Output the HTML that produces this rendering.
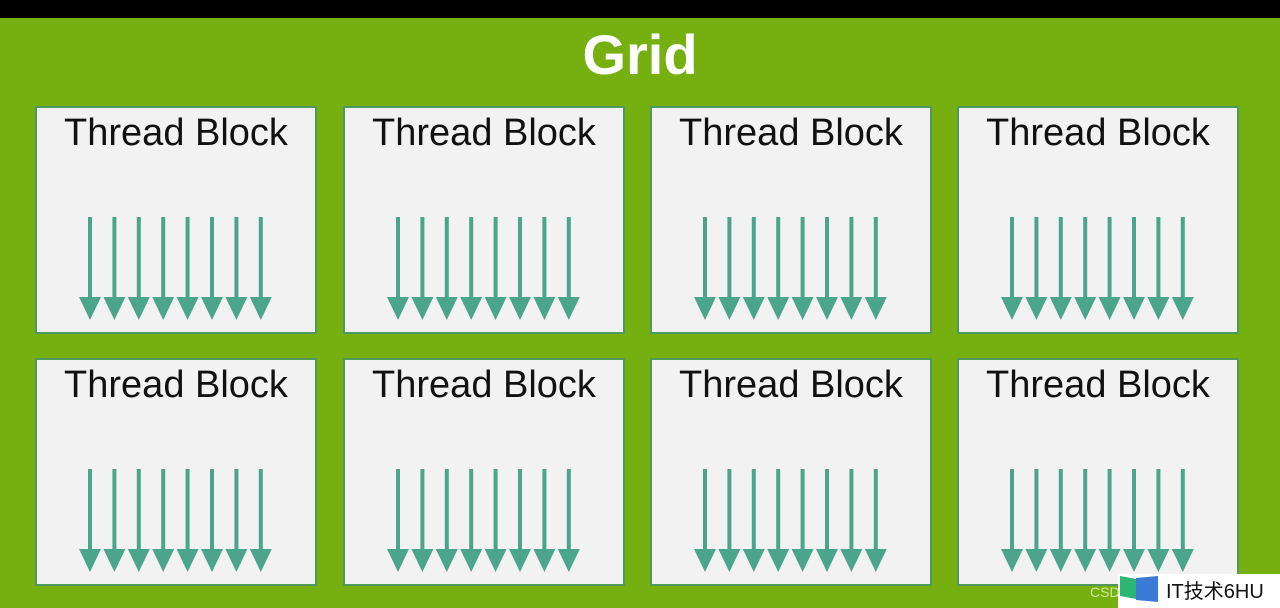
<!DOCTYPE html>
<html><head><meta charset="utf-8"><style>
html,body{margin:0;padding:0;width:1280px;height:608px;overflow:hidden;background:#76b010;}
svg{display:block}
</style></head><body>
<svg width="1280" height="608" xmlns="http://www.w3.org/2000/svg">
<defs>
<g id="arrows" fill="#4aa58a">
<rect x="53" y="217" width="4" height="84"/><polygon points="44,297 66,297 55,320"/>
<rect x="77.4" y="217" width="4" height="84"/><polygon points="68.4,297 90.4,297 79.4,320"/>
<rect x="101.8" y="217" width="4" height="84"/><polygon points="92.8,297 114.8,297 103.8,320"/>
<rect x="126.2" y="217" width="4" height="84"/><polygon points="117.2,297 139.2,297 128.2,320"/>
<rect x="150.6" y="217" width="4" height="84"/><polygon points="141.6,297 163.6,297 152.6,320"/>
<rect x="175" y="217" width="4" height="84"/><polygon points="166,297 188,297 177,320"/>
<rect x="199.4" y="217" width="4" height="84"/><polygon points="190.4,297 212.4,297 201.4,320"/>
<rect x="223.8" y="217" width="4" height="84"/><polygon points="214.8,297 236.8,297 225.8,320"/>
</g>
<g id="blk">
<rect x="1" y="107" width="280" height="226" fill="#f2f2f2" stroke="#4f9a5a" stroke-width="2"/>
<text x="141" y="145" text-anchor="middle" font-family="Liberation Sans, sans-serif" font-size="38" fill="#111">Thread Block</text>
<use href="#arrows"/>
</g>
</defs>
<rect x="0" y="0" width="1280" height="18" fill="#000"/>
<text x="640" y="74" text-anchor="middle" font-family="Liberation Sans, sans-serif" font-weight="bold" font-size="56" fill="#fff">Grid</text>
<use href="#blk" x="35" y="0"/>
<use href="#blk" x="343" y="0"/>
<use href="#blk" x="650" y="0"/>
<use href="#blk" x="957" y="0"/>
<use href="#blk" x="35" y="252"/>
<use href="#blk" x="343" y="252"/>
<use href="#blk" x="650" y="252"/>
<use href="#blk" x="957" y="252"/>
<rect x="1118" y="574" width="162" height="34" fill="#fff"/>
<polygon points="1120,576 1142,580 1142,600 1120,596" fill="#2bb673"/>
<polygon points="1136,578 1158,576 1158,602 1136,600" fill="#3a7bd5"/>
<text x="1166" y="598" font-family="Liberation Sans, 'Noto Sans CJK SC', sans-serif" font-size="20" fill="#111">IT技术6HU</text>
<text x="1090" y="597" font-family="Liberation Sans, sans-serif" font-size="14" fill="#cfe8a0">CSD</text>
</svg>
</body></html>
